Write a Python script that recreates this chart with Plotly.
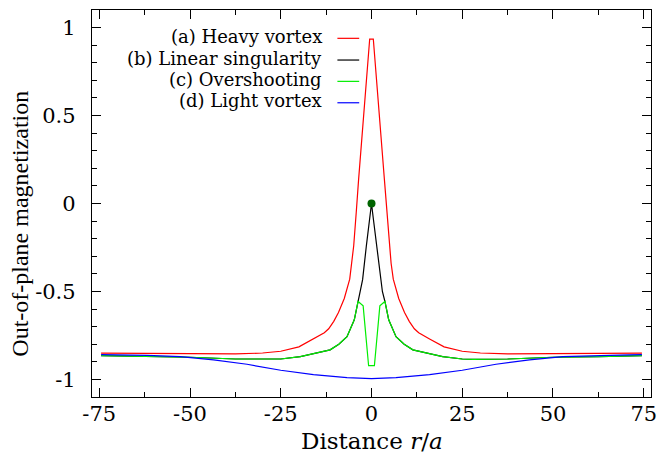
import plotly.graph_objects as go

# ---------------- data ----------------
legend_labels = ["(a) Heavy vortex", "(b) Linear singularity", "(c) Overshooting", "(d) Light vortex"]
colors = ["#ff0000", "#000000", "#00ee00", "#0000ff"]

# (a) Heavy vortex
r_heavy = [-74.5, -62.5, -50, -37.5, -30, -25, -20, -16, -13, -11.8, -10.4, -9.1, -7.5, -6.0, -5.4, -4.9, -4.2, -3.55, -0.5,
           0.5, 3.55, 4.2, 4.9, 5.4, 6.0, 7.5, 9.1, 10.4, 11.8, 13, 16, 20, 25, 30, 37.5, 50, 62.5, 74.5]
m_heavy = [-0.851, -0.852, -0.853, -0.855, -0.850, -0.840, -0.815, -0.770, -0.735, -0.712, -0.670, -0.620, -0.540, -0.430, -0.340, -0.240, -0.050, 0.137, 0.935,
           0.935, 0.137, -0.050, -0.240, -0.340, -0.430, -0.540, -0.620, -0.670, -0.712, -0.735, -0.770, -0.815, -0.840, -0.850, -0.855, -0.853, -0.852, -0.851]

# shared outer part of (b) and (c), left side then right side
r_outer_left = [-74.5, -62.5, -50, -37.5, -28, -25, -19.6, -16, -11.4, -9.0, -6.75, -4.74, -3.7]
m_outer_left = [-0.865, -0.870, -0.874, -0.884, -0.886, -0.884, -0.870, -0.853, -0.832, -0.800, -0.757, -0.661, -0.557]
r_outer_right = [3.7, 4.74, 6.75, 9.0, 11.4, 16, 19.6, 25, 28, 37.5, 50, 62.5, 74.5]
m_outer_right = [-0.557, -0.661, -0.757, -0.800, -0.832, -0.853, -0.870, -0.884, -0.886, -0.884, -0.874, -0.870, -0.865]

# (b) Linear singularity, inner part
r_lin_inner = [-3.0, -2.45, -1.43, -0.5, 0, 0.5, 1.43, 2.45, 3.0]
m_lin_inner = [-0.500, -0.433, -0.243, -0.085, 0.0, -0.085, -0.243, -0.433, -0.500]

# (c) Overshooting, inner part
r_over_inner = [-2.3, -0.8, 0.8, 2.3]
m_over_inner = [-0.582, -0.922, -0.922, -0.582]

# (d) Light vortex
r_light = [-74.5, -71, -61.8, -52.7, -43.5, -34.3, -25, -16, -6.75, 0, 6.75, 16, 25, 34.3, 43.5, 52.7, 61.8, 71, 74.5]
m_light = [-0.859, -0.860, -0.863, -0.870, -0.889, -0.914, -0.948, -0.973, -0.990, -0.995, -0.990, -0.973, -0.948, -0.914, -0.889, -0.870, -0.863, -0.860, -0.859]

# singular point marker
r_dot = [0]
m_dot = [0]

x_tickvals = [-75, -50, -25, 0, 25, 50, 75]
x_ticktext = ["-75", "-50", "-25", "0", "25", "50", "75"]
y_tickvals = [-1, -0.5, 0, 0.5, 1]
y_ticktext = ["-1", "-0.5", "0", "0.5", "1"]
x_title = "Distance <i>r</i>/<i>a</i>"
y_title = "Out-of-plane magnetization"

# ---------------- build series ----------------
r_lin = r_outer_left + r_lin_inner + r_outer_right
m_lin = m_outer_left + m_lin_inner + m_outer_right
r_over = r_outer_left + r_over_inner + r_outer_right
m_over = m_outer_left + m_over_inner + m_outer_right

series = [(r_heavy, m_heavy), (r_lin, m_lin), (r_over, m_over), (r_light, m_light)]

FONT = "DejaVu Serif"
fig = go.Figure()
for (xs, ys), name, c in zip(series, legend_labels, colors):
    fig.add_trace(go.Scatter(x=xs, y=ys, mode="lines", name=name,
                             line=dict(color=c, width=1.2), showlegend=False))
fig.add_trace(go.Scatter(x=r_dot, y=m_dot, mode="markers", showlegend=False,
                         marker=dict(color="#006400", size=8)))

# gnuplot-style key: text right-aligned, sample line to its right
key_y = [0.9268, 0.8707, 0.8156, 0.7603]
for name, c, yy in zip(legend_labels, colors, key_y):
    fig.add_annotation(x=0.4145, y=yy + 0.005, xref="paper", yref="paper", text=name,
                       showarrow=False, xanchor="right", yanchor="middle",
                       font=dict(family=FONT, size=18, color="black"))
    fig.add_shape(type="line", xref="paper", yref="paper", x0=0.439, x1=0.478,
                  y0=yy, y1=yy, line=dict(color=c, width=1.2))

# axis titles
fig.add_annotation(x=0.5, y=-0.1146, xref="paper", yref="paper", text=x_title,
                   showarrow=False, xanchor="center", yanchor="middle",
                   font=dict(family=FONT, size=23, color="black"))
fig.add_annotation(x=-0.128, y=0.449, xref="paper", yref="paper", text=y_title,
                   showarrow=False, xanchor="center", yanchor="middle", textangle=-90,
                   font=dict(family="Liberation Serif", size=24, color="black"))

axis_common = dict(showline=True, linecolor="black", linewidth=1.3, mirror="allticks",
                   ticks="inside", ticklen=9, tickcolor="black", tickwidth=1.2,
                   showgrid=False, zeroline=False, automargin=False,
                   tickfont=dict(family=FONT, size=21, color="black"))

fig.update_xaxes(range=[-77, 77], tickvals=x_tickvals, ticktext=x_ticktext,
                 minor=dict(ticks="inside", ticklen=4.5, dtick=12.5, tick0=0, tickcolor="black", tickwidth=1.2),
                 ticklabelstandoff=-2, **axis_common)
fig.update_yaxes(range=[-1.1, 1.1], tickvals=y_tickvals, ticktext=y_ticktext,
                 minor=dict(ticks="inside", ticklen=4.5, dtick=0.1, tick0=0, tickcolor="black", tickwidth=1.2),
                 ticklabelstandoff=11, **axis_common)

fig.update_layout(width=660, height=459, margin=dict(l=92, r=9, t=10, b=62),
                  paper_bgcolor="white", plot_bgcolor="white", showlegend=False)

fig.write_html("out.html", config={"displayModeBar": False},
               post_script="document.body.style.margin='0';document.body.style.overflow='hidden';")
